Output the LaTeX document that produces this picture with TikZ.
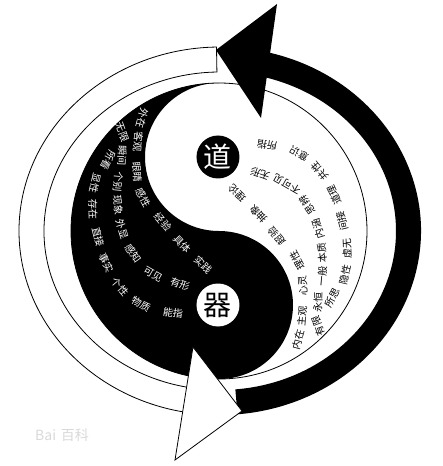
\documentclass[tikz,border=0pt]{standalone}
\usepackage{fontspec}
\newfontfamily\cjk{Noto Sans CJK SC}
\begin{document}
\begin{tikzpicture}[x=1pt,y=1pt,
	yinword/.style={font=\cjk\fontsize{10}{10}\selectfont,text=white,inner sep=0pt},
	yangword/.style={font=\cjk\fontsize{10}{10}\selectfont,text=black,inner sep=0pt},
	bigword/.style={circle,minimum size=43pt,inner sep=0pt,font=\cjk\fontsize{28}{28}\selectfont},
	band/.style={draw=black,line width=0.8pt}]
	\useasboundingbox (-219,-235) rectangle (224,231);
	% taiji
	\fill (0,148) arc [start angle=90, end angle=270, radius=148]
		arc [start angle=-90, end angle=90, radius=74]
		arc [start angle=-90, end angle=-270, radius=74] -- cycle;
	\draw [line width=0.8pt] (0,0) circle (148);
	\node [bigword,fill=black,text=white] (dao) at (-1,74) {道};
	\node [bigword,fill=white,text=black] (qi) at (-1,-74) {器};
	% words, the yang ones mirrored through the centre
	\foreach \x/\y/\r/\a/\b [count=\i] in {
		-77/113/-105/外在/内在, -81/89/-95/客观/主观, -82/59/-85/眼睛/心灵,
		-76/33/-62/感性/理性, -56/9/-50/经验/超验, -37/-13/-47/具体/抽象,
		-16/-34/-45/实践/理论,
		-97/99/-70/无限/有限, -97/75/-92/瞬间/永恒, -101/49/-95/个别/一般,
		-101/26/-85/现象/本质, -97/2/-73/外显/内涵, -86/-22/-55/感知/思辨,
		-66/-43/-30/可见/不可见, -39/-53/-20/有形/无形,
		-111/71/-118/所看/所思, -124/48/-103/显性/隐性, -126/22/-88/存在/虚无,
		-121/-6/-76/直接/间接, -113/-32/-65/事实/道理, -99/-56/-50/个性/共性,
		-78/-73/-30/物质/意识, -46/-82/-8/能指/所指} {
		\node [yinword,rotate=\r] (b\i) at (\x,\y) {\a};
		\node [yangword,rotate={\r+180}] (w\i) at ({2-\x},{4-\y}) {\b};
	}
	% the two arrows
	\begin{scope}[shift={(1,0)}]
		\filldraw [band,fill=white] (91:201 and 184) arc [start angle=91, end angle=262, x radius=201, y radius=184]
			-- (262:176 and 159) arc [start angle=262, end angle=91, x radius=176, y radius=159] -- cycle;
		\fill (78:201 and 184) arc [start angle=78, end angle=-85, x radius=201, y radius=184]
			-- (-85:176 and 159) arc [start angle=-85, end angle=78, x radius=176, y radius=159] -- cycle;
	\end{scope}
	\fill (58,227) -- (-3,181) -- (42,113) -- cycle;
	\filldraw [fill=white,line width=0.8pt] (-26,-116) -- (23,-180) -- (-44,-229) -- cycle;
	\node [text=gray!30,font=\cjk\fontsize{14}{14}\selectfont] (mark) at (-157,-204) {Bai\,\,百科};
\end{tikzpicture}
\end{document}
